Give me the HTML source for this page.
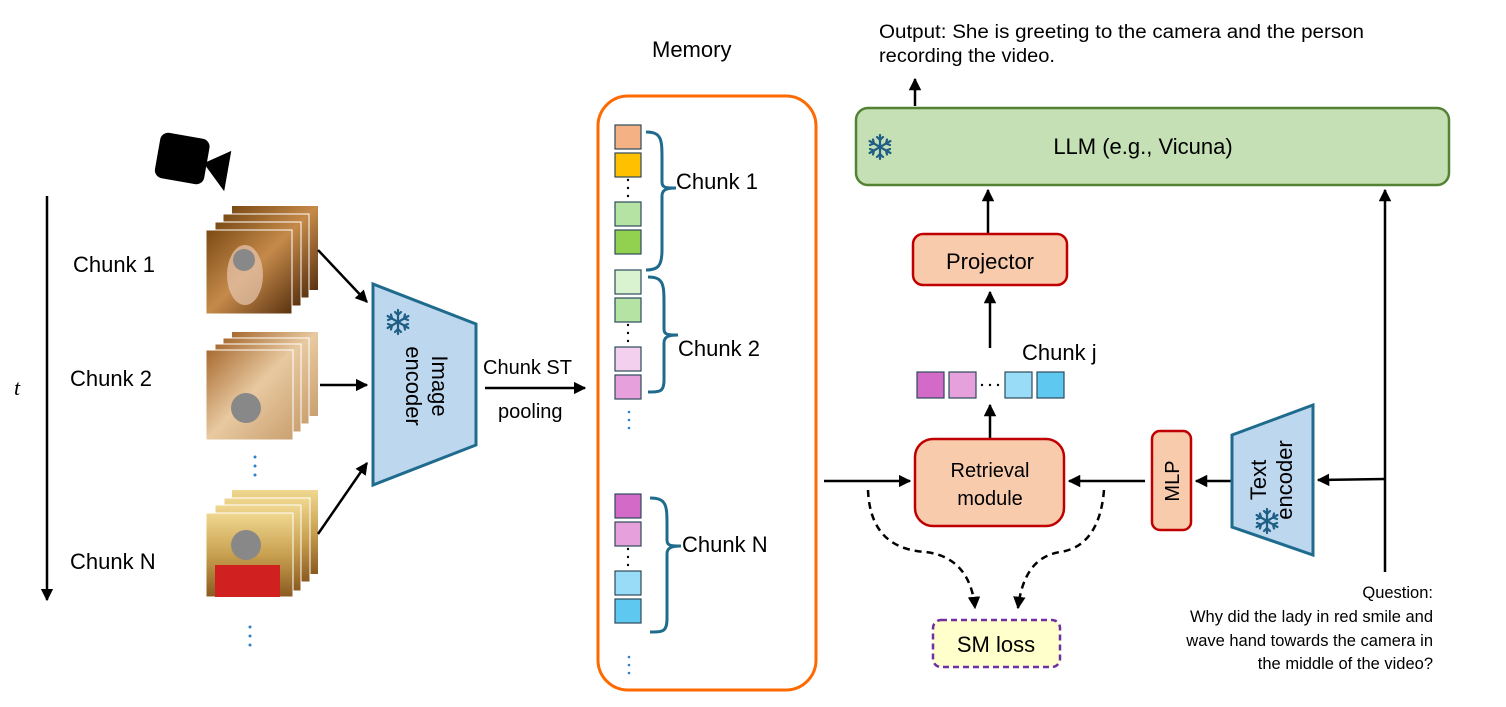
<!DOCTYPE html>
<html><head><meta charset="utf-8"><style>
html,body{margin:0;padding:0;background:#fff;}
svg{display:block;font-family:"Liberation Sans",Arial,sans-serif;}
</style></head><body>
<svg width="1506" height="707" viewBox="0 0 1506 707" xmlns="http://www.w3.org/2000/svg">
<defs>
<marker id="ah" viewBox="0 0 10 10" refX="9" refY="5" markerWidth="5" markerHeight="5" orient="auto-start-reverse" markerUnits="strokeWidth"><path d="M0,0 L10,5 L0,10 z" fill="#000"/></marker>
<linearGradient id="g1" x1="0" y1="0" x2="1" y2="1"><stop offset="0" stop-color="#7a4a14"/><stop offset="0.5" stop-color="#c58a4a"/><stop offset="1" stop-color="#5a3210"/></linearGradient>
<linearGradient id="g2" x1="0" y1="0" x2="1" y2="1"><stop offset="0" stop-color="#a86a30"/><stop offset="0.5" stop-color="#e8c9a0"/><stop offset="1" stop-color="#c9a070"/></linearGradient>
<linearGradient id="g3" x1="0" y1="0" x2="0" y2="1"><stop offset="0" stop-color="#f0d890"/><stop offset="0.5" stop-color="#c8a050"/><stop offset="1" stop-color="#8a5a20"/></linearGradient>
<g id="flake" stroke="#1f5f86" stroke-width="2.2" fill="none" stroke-linecap="round">
<line x1="0" y1="-12" x2="0" y2="12"/><line x1="-10.4" y1="-6" x2="10.4" y2="6"/><line x1="-10.4" y1="6" x2="10.4" y2="-6"/>
<path d="M-3,-10 L0,-7 L3,-10 M-3,10 L0,7 L3,10 M-10,-2 L-6,-3.5 L-7,-7.5 M10,2 L6,3.5 L7,7.5 M-10,2 L-6,3.5 L-7,7.5 M10,-2 L6,-3.5 L7,-7.5"/>
</g>
</defs>

<g transform="rotate(10 185 160)"><rect x="157" y="136" width="50" height="46" rx="8" fill="#000"/><path d="M204,160 L229,143 L229,184 z" fill="#000"/></g>

<line x1="47" y1="196" x2="47" y2="600" stroke="#000" stroke-width="2.5" marker-end="url(#ah)"/>
<text x="14" y="395" font-size="22" font-style="italic" font-family="Liberation Serif,serif">t</text>
<text x="73" y="272" font-size="22">Chunk 1</text>
<text x="70" y="386" font-size="22">Chunk 2</text>
<text x="70" y="569" font-size="22">Chunk N</text>

<g>
<rect x="232" y="206" width="86" height="84" fill="url(#g1)"/><rect x="223" y="214" width="86" height="84" fill="url(#g1)" stroke="#fff"/><rect x="215" y="222" width="86" height="84" fill="url(#g1)" stroke="#fff"/><rect x="206" y="230" width="86" height="84" fill="url(#g1)" stroke="#fff"/>
<ellipse cx="245" cy="275" rx="18" ry="30" fill="#e8c8b0" opacity="0.7"/><circle cx="244" cy="260" r="11" fill="#888"/>
<rect x="232" y="332" width="86" height="84" fill="url(#g2)"/><rect x="223" y="338" width="86" height="86" fill="url(#g2)" stroke="#fff"/><rect x="215" y="344" width="86" height="88" fill="url(#g2)" stroke="#fff"/><rect x="206" y="350" width="87" height="90" fill="url(#g2)" stroke="#fff"/>
<circle cx="246" cy="408" r="15" fill="#888"/>
<rect x="232" y="490" width="86" height="84" fill="url(#g3)"/><rect x="224" y="498" width="86" height="84" fill="url(#g3)" stroke="#fff"/><rect x="215" y="505" width="86" height="86" fill="url(#g3)" stroke="#fff"/><rect x="206" y="513" width="87" height="84" fill="url(#g3)" stroke="#fff"/>
<rect x="215" y="565" width="65" height="32" fill="#d02020"/><circle cx="246" cy="545" r="15" fill="#888"/>
</g>
<g fill="#2f7fcf"><circle cx="255" cy="457" r="1.5"/><circle cx="255" cy="466" r="1.5"/><circle cx="255" cy="475" r="1.5"/>
<circle cx="250" cy="627" r="1.5"/><circle cx="250" cy="636" r="1.5"/><circle cx="250" cy="645" r="1.5"/></g>

<line x1="318" y1="250" x2="367" y2="302" stroke="#000" stroke-width="2.5" marker-end="url(#ah)"/>
<line x1="320" y1="385" x2="367" y2="385" stroke="#000" stroke-width="2.5" marker-end="url(#ah)"/>
<line x1="318" y1="534" x2="367" y2="463" stroke="#000" stroke-width="2.5" marker-end="url(#ah)"/>

<path d="M373,284 L476,324 L476,445 L373,485 z" fill="#bdd7ee" stroke="#1f6b8e" stroke-width="3"/>
<use href="#flake" x="398" y="322"/>
<text transform="translate(424,386) rotate(90)" font-size="22" text-anchor="middle"><tspan x="0" y="-8">Image</tspan><tspan x="0" y="18">encoder</tspan></text>

<text x="483" y="374" font-size="20">Chunk ST</text>
<line x1="485" y1="388" x2="585" y2="388" stroke="#000" stroke-width="2.5" marker-end="url(#ah)"/>
<text x="498" y="418" font-size="20">pooling</text>

<text x="652" y="57" font-size="22">Memory</text>
<rect x="598" y="96" width="218" height="594" rx="30" fill="none" stroke="#ff6a00" stroke-width="3"/>
<g stroke="#2d4a5a" stroke-width="1.2">
<rect x="615" y="125" width="26" height="24" fill="#f4b183"/><rect x="615" y="153" width="26" height="24" fill="#ffc000"/>
<rect x="615" y="202" width="26" height="24" fill="#b5e3a4"/><rect x="615" y="230" width="26" height="24" fill="#92d050"/>
<rect x="615" y="270" width="26" height="24" fill="#d9f3d0"/><rect x="615" y="298" width="26" height="24" fill="#b5e3a4"/>
<rect x="615" y="347" width="26" height="24" fill="#f2d0ee"/><rect x="615" y="375" width="26" height="24" fill="#e6a0dc"/>
<rect x="615" y="494" width="26" height="24" fill="#d46ac8"/><rect x="615" y="522" width="26" height="24" fill="#e6a0dc"/>
<rect x="615" y="571" width="26" height="24" fill="#99dcf7"/><rect x="615" y="599" width="26" height="24" fill="#5ec8f0"/>
</g>
<g fill="#000"><circle cx="628" cy="180" r="1.2"/><circle cx="628" cy="188" r="1.2"/><circle cx="628" cy="196" r="1.2"/>
<circle cx="628" cy="325" r="1.2"/><circle cx="628" cy="333" r="1.2"/><circle cx="628" cy="341" r="1.2"/>
<circle cx="628" cy="549" r="1.2"/><circle cx="628" cy="557" r="1.2"/><circle cx="628" cy="565" r="1.2"/></g>
<g fill="#2f7fcf"><circle cx="629" cy="412" r="1.3"/><circle cx="629" cy="420" r="1.3"/><circle cx="629" cy="428" r="1.3"/>
<circle cx="629" cy="657" r="1.3"/><circle cx="629" cy="665" r="1.3"/><circle cx="629" cy="673" r="1.3"/></g>
<g fill="none" stroke="#1f6b8e" stroke-width="3">
<path d="M646,132 C662,132 662,140 662,160 L662,182 C662,188 666,188 676,188 C666,188 662,190 662,196 L662,250 C662,266 658,270 646,270"/>
<path d="M648,277 C664,277 664,285 664,305 L664,329 C664,335 668,335 678,335 C668,335 664,337 664,343 L664,380 C664,392 660,392 648,392"/>
<path d="M650,498 C667,498 667,506 667,526 L667,540 C667,546 671,546 681,546 C671,546 667,548 667,554 L667,618 C667,632 663,632 650,632"/>
</g>
<text x="676" y="189" font-size="22">Chunk 1</text>
<text x="678" y="356" font-size="22">Chunk 2</text>
<text x="682" y="552" font-size="22">Chunk N</text>

<text x="879" y="38" font-size="19" textLength="485" lengthAdjust="spacingAndGlyphs">Output: She is greeting to the camera and the person</text>
<text x="879" y="62" font-size="19" textLength="176" lengthAdjust="spacingAndGlyphs">recording the video.</text>
<line x1="915" y1="106" x2="915" y2="79" stroke="#000" stroke-width="2.5" marker-end="url(#ah)"/>

<rect x="856" y="108" width="593" height="77" rx="12" fill="#c5e0b4" stroke="#548235" stroke-width="2.5"/>
<use href="#flake" x="880" y="147"/>
<text x="1143" y="154" font-size="22" text-anchor="middle">LLM (e.g., Vicuna)</text>

<line x1="988" y1="234" x2="988" y2="190" stroke="#000" stroke-width="2.5" marker-end="url(#ah)"/>
<rect x="913" y="234" width="154" height="51" rx="10" fill="#f8cbad" stroke="#c00000" stroke-width="2.5"/>
<text x="990" y="269" font-size="22" text-anchor="middle">Projector</text>
<line x1="990" y1="348" x2="990" y2="292" stroke="#000" stroke-width="2.5" marker-end="url(#ah)"/>
<text x="1022" y="360" font-size="22">Chunk j</text>
<g stroke="#2d4a5a" stroke-width="1.2">
<rect x="917" y="372" width="27" height="26" fill="#d46ac8"/><rect x="949" y="372" width="27" height="26" fill="#e6a0dc"/>
<rect x="1005" y="372" width="27" height="26" fill="#99dcf7"/><rect x="1037" y="372" width="27" height="26" fill="#5ec8f0"/>
</g>
<g fill="#000"><circle cx="982" cy="385" r="1.2"/><circle cx="990" cy="385" r="1.2"/><circle cx="998" cy="385" r="1.2"/></g>
<line x1="990" y1="438" x2="990" y2="405" stroke="#000" stroke-width="2.5" marker-end="url(#ah)"/>

<rect x="915" y="439" width="149" height="87" rx="18" fill="#f8cbad" stroke="#c00000" stroke-width="2.5"/>
<text x="990" y="477" font-size="20" text-anchor="middle">Retrieval</text>
<text x="990" y="505" font-size="20" text-anchor="middle">module</text>
<line x1="824" y1="481" x2="910" y2="481" stroke="#000" stroke-width="2.5" marker-end="url(#ah)"/>
<line x1="1145" y1="481" x2="1069" y2="481" stroke="#000" stroke-width="2.5" marker-end="url(#ah)"/>

<rect x="1152" y="431" width="39" height="99" rx="8" fill="#f8cbad" stroke="#c00000" stroke-width="2.5"/>
<text transform="translate(1172,481) rotate(-90)" font-size="20" text-anchor="middle" y="7">MLP</text>
<line x1="1232" y1="481" x2="1196" y2="481" stroke="#000" stroke-width="2.5" marker-end="url(#ah)"/>

<path d="M1232,435 L1313,405 L1313,555 L1232,527 z" fill="#bdd7ee" stroke="#1f6b8e" stroke-width="3"/>
<text transform="translate(1272,480) rotate(-90)" font-size="22" text-anchor="middle"><tspan x="0" y="-6">Text</tspan><tspan x="0" y="20">encoder</tspan></text>
<use href="#flake" x="1267" y="521"/>
<line x1="1385" y1="479" x2="1318" y2="480" stroke="#000" stroke-width="2.5" marker-end="url(#ah)"/>
<line x1="1385" y1="572" x2="1385" y2="190" stroke="#000" stroke-width="2.5" marker-end="url(#ah)"/>

<g font-size="16.5" text-anchor="end">
<text x="1433" y="598">Question:</text>
<text x="1433" y="622">Why did the lady in red smile and</text>
<text x="1433" y="646">wave hand towards the camera in</text>
<text x="1433" y="669">the middle of the video?</text>
</g>

<path d="M868,490 C870,540 900,550 925,552 C955,555 972,575 975,608" fill="none" stroke="#000" stroke-width="2.5" stroke-dasharray="7,5" marker-end="url(#ah)"/>
<path d="M1104,490 C1100,540 1075,550 1060,552 C1035,556 1022,575 1018,608" fill="none" stroke="#000" stroke-width="2.5" stroke-dasharray="7,5" marker-end="url(#ah)"/>
<rect x="933" y="620" width="127" height="47" rx="8" fill="#ffffcc" stroke="#7030a0" stroke-width="2.5" stroke-dasharray="6,4"/>
<text x="996" y="652" font-size="22" text-anchor="middle">SM loss</text>
</svg>
</body></html>
